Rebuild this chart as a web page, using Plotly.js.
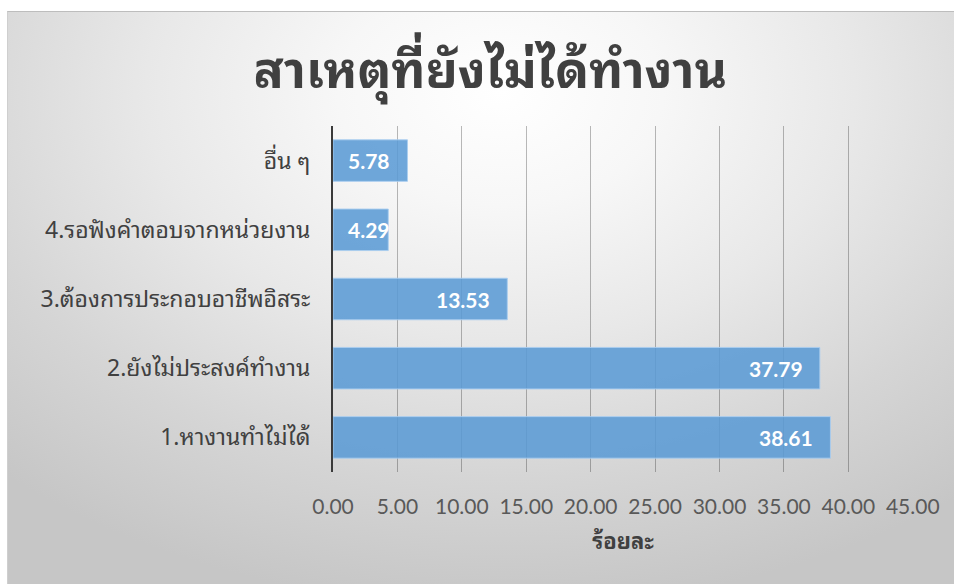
<!DOCTYPE html>
<html>
<head>
<meta charset="utf-8">
<script src="https://cdn.plot.ly/plotly-3.0.1.min.js"></script>
<style>
  html, body { margin:0; padding:0; background:#ffffff; width:954px; height:584px; overflow:hidden; }
  #bg { position:absolute; left:7px; top:11px; width:947px; height:573px;
        border-top:1px solid #bdbdbd; border-left:1px solid #cfcfcf;
        background: radial-gradient(ellipse 78% 90% at 52% 14%, #ffffff 0%, #f7f7f7 22%, #e8e8e8 48%, #d5d5d5 75%, #c6c6c6 100%); }
  #chart { position:absolute; left:0; top:0; width:954px; height:584px; }
</style>
</head>
<body>
<div id="bg"></div>
<div id="chart"></div>
<script>
const categories = ["1.หางานทำไม่ได้", "2.ยังไม่ประสงค์ทำงาน", "3.ต้องการประกอบอาชีพอิสระ", "4.รอฟังคำตอบจากหน่วยงาน", "อื่น ๆ"];
const values = [38.61, 37.79, 13.53, 4.29, 5.78];
const xTickVals = [0, 5, 10, 15, 20, 25, 30, 35, 40, 45];
const xTickText = ["0.00", "5.00", "10.00", "15.00", "20.00", "25.00", "30.00", "35.00", "40.00", "45.00"];
const titleText = "สาเหตุที่ยังไม่ได้ทำงาน";
const xTitleText = "ร้อยละ";

const thaiFont = "Tahoma, 'Noto Sans Thai Looped', Loma, Garuda, 'Noto Sans Thai', 'Noto Sans', sans-serif";
const W = 954, H = 584;
const margin = {l:333, r:41, t:126, b:112};
const xMax = 45.02;
const pxPerUnit = (W - margin.l - margin.r) / xMax;
const labelSize = 21;

const annotations = values.map((v, i) => {
  const txt = v.toFixed(2);
  const estW = labelSize * 0.52 * txt.length;
  const fits = v * pxPerUnit - 15 - estW >= 10;
  return {
    x: fits ? v : 0, y: categories[i], xref:'x', yref:'y',
    text: '<b>' + txt + '</b>', showarrow:false,
    xanchor: fits ? 'right' : 'left', xshift: fits ? -15 : 13,
    font: {family: "Lato, 'Open Sans', sans-serif", size: labelSize, color:'#ffffff'}
  };
});

const data = [{
  type:'bar', orientation:'h', x: values, y: categories,
  marker: {color:'rgba(91,155,213,0.88)', line:{color:'rgba(170,205,240,0.9)', width:1}},
  width: 0.6, hoverinfo:'none'
}];

const layout = {
  width: W, height: H, margin: margin,
  paper_bgcolor:'rgba(0,0,0,0)', plot_bgcolor:'rgba(0,0,0,0)',
  showlegend:false,
  title: {text: '<b>' + titleText + '</b>', x: 0.514, xanchor:'center', y: 0.88, yanchor:'middle',
          font:{family: thaiFont, size: 50, color:'#404040'}},
  xaxis: {range:[0, xMax], tickvals: xTickVals, ticktext: xTickText,
          showgrid:true, gridcolor:'rgba(0,0,0,0.27)', gridwidth:1, zeroline:false, showline:false,
          ticks:'', ticklabelstandoff: 20,
          tickfont:{family:"Lato, 'Open Sans', sans-serif", size:21, color:'#595959'},
          title:{text:'<b>' + xTitleText + '</b>', standoff: 16,
                 font:{family: thaiFont, size:22, color:'#404040'}}},
  yaxis: {type:'category', showgrid:false, zeroline:false, showline:true, linecolor:'#3a3a3a', linewidth:2,
          ticks:'', ticklabelstandoff: 16,
          tickfont:{family: thaiFont, size:23, color:'#404040'}},
  annotations: annotations
};

Plotly.newPlot('chart', data, layout, {displayModeBar:false, staticPlot:true});
</script>
</body>
</html>
